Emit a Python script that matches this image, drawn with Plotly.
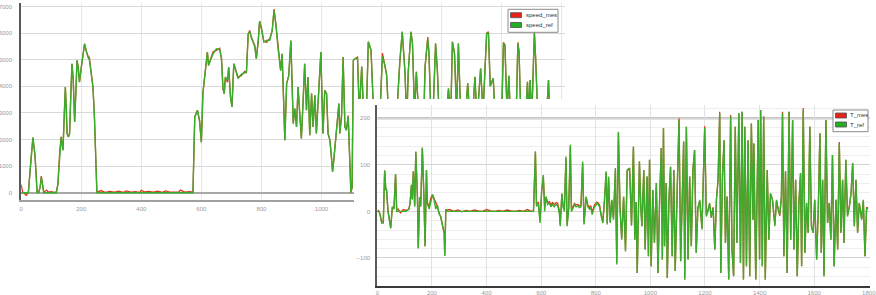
import plotly.graph_objects as go

# ---------------- speed chart data ----------------
speed_t = [
    0, 5, 10, 17, 24, 30, 39, 46, 53, 58,
    63, 67, 72, 75, 85, 90, 100, 110, 117,
    122, 128, 133, 139, 143, 147, 150, 153, 157, 161,
    165, 169, 173, 178, 182, 186, 190, 194, 200, 206,
    211, 216, 222, 227, 231, 235, 239, 244, 248, 252,
    256,
    265, 280, 295, 310, 325, 340, 350, 365, 380, 395,
    400, 410, 425, 440, 455, 470, 480, 495, 510, 525,
    530, 545, 560, 572,
    578, 587, 594, 600, 605, 611, 620, 624, 631, 639,
    650, 661, 667, 672, 676, 680, 687, 691, 697, 702,
    708, 713, 722, 733, 744, 750, 756, 761, 767, 778,
    783, 789, 794, 800, 808, 817, 828, 836, 842, 848,
    855, 864, 869, 874, 878, 884, 891, 898, 902, 906,
    911, 917, 922, 928, 933, 939, 944, 950, 955, 961,
    967, 972, 978, 983, 989, 998, 1002, 1005, 1011, 1017,
    1022, 1028, 1033, 1037, 1041, 1047, 1052, 1058, 1061, 1067,
    1072, 1078, 1083, 1089, 1093, 1098, 1102, 1106, 1111,
    1120, 1126, 1134, 1142, 1150, 1156, 1165, 1175, 1184, 1192,
    1203, 1211, 1217, 1224, 1232, 1240, 1248, 1261, 1269, 1278,
    1284, 1289, 1298, 1303, 1310, 1316, 1325, 1334, 1340, 1345,
    1354, 1358, 1365, 1372, 1380, 1386, 1392, 1400, 1410, 1423,
    1430, 1436, 1443, 1450, 1456, 1462, 1470, 1480, 1487, 1496,
    1504, 1511, 1518, 1530, 1538, 1550, 1556, 1562, 1572, 1580,
    1590, 1600, 1606, 1611, 1618, 1624, 1630, 1640, 1648, 1654,
    1658, 1664, 1672, 1679, 1686, 1690, 1695, 1700, 1709, 1713,
    1720, 1728, 1736, 1744, 1750, 1756, 1762, 1770, 1780, 1790,
]
speed_ref = [
    0, 0, 0, 0, 0, 900, 2075, 1400, 0, 0,
    200, 600, 100, 0, 0, 0, 0, 0, 0,
    300, 1500, 2100, 1600, 3000, 3975, 3200, 2225, 2100, 2200,
    3600, 4850, 4300, 2660, 3800, 4975, 4700, 4160, 4700, 5300,
    5600, 5350, 5100, 5000, 4700, 4300, 3975, 2800, 1200, 0,
    0,
    0, 0, 0, 0, 0, 0, 0, 0, 0, 0,
    0, 0, 0, 0, 0, 0, 0, 0, 0, 0,
    0, 0, 0, 0,
    2850, 3100, 2700, 1900, 3725, 4350, 5290, 4790, 5000, 5225,
    5410, 5380, 5040, 3910, 3725, 4350, 4225, 4725, 3600, 3225,
    4850, 4660, 4290, 4450, 4500, 4540, 5975, 6040, 5850, 5475,
    5040, 5660, 6450, 6225, 5660, 5725, 5740, 6100, 6850, 6350,
    5475, 4600, 5225, 3475, 1975, 4100, 4400, 5725, 3725, 2600,
    3160, 2475, 3975, 3100, 2040, 3475, 4850, 3100, 4350, 2160,
    3725, 2475, 3660, 2225, 3475, 5290, 3475, 2225, 3850, 3725,
    2225, 1975, 1350, 790, 1225, 2100, 2475, 3350, 2225, 2850,
    5100, 2475, 2350, 2850, 1600, 0, 200, 4975, 5040,
    5050, 3000, 4740, 2500, 3200, 5675, 5360, 2600, 3300, 2200,
    5110, 4800, 4420, 2800, 2200, 3000, 2400, 4990, 6050, 4550,
    2700, 4550, 6050, 5610, 3000, 4550, 2600, 3200, 2500, 4740,
    5800, 5240, 2700, 3100, 5610, 4600, 2800, 3300, 2200, 3920,
    2600, 5675, 5240, 3000, 5610, 3500, 2300, 3000, 4110, 2500,
    3000, 4360, 2700, 4670, 3000, 5990, 5990, 4000, 4300, 2500,
    3200, 2800, 5610, 5550, 3000, 4400, 2600, 3300, 2700, 5610,
    5300, 2800, 3300, 2600, 4170, 3000, 4235, 2700, 5990, 5100,
    3000, 2400, 3300, 2600, 3000, 4235, 2500, 2000, 1500, 2200,
]
speed_mes = [
    300, 20, -20, -100, 50, 900, 2075, 1400, 30, 10,
    200, 625, 100, 20, 100, 20, 40, 10, 30,
    300, 1500, 2100, 1600, 3000, 3975, 3200, 2225, 2100, 2200,
    3600, 4850, 4300, 2660, 3800, 4975, 4700, 4160, 4700, 5300,
    5600, 5350, 5150, 5080, 4700, 4300, 3975, 2800, 1200, 60,
    30,
    80, 10, 50, 20, 60, 15, 70, 20, 40, 10,
    90, 30, 50, 20, 60, 15, 70, 25, 40, 30,
    100, 20, 40, 20,
    2850, 3100, 2700, 1900, 3725, 4350, 5290, 4790, 5000, 5300,
    5350, 5430, 5040, 3910, 3725, 4350, 4150, 4725, 3600, 3225,
    4850, 4660, 4350, 4400, 4560, 4500, 5975, 6100, 5800, 5550,
    5040, 5660, 6450, 6150, 5700, 5650, 5800, 6100, 6900, 6350,
    5475, 4600, 5225, 3475, 1975, 4100, 4400, 5725, 3725, 2600,
    3160, 2475, 3975, 3100, 2040, 3475, 4850, 3100, 4350, 2160,
    3725, 2475, 3660, 2225, 3475, 5290, 3475, 2225, 3850, 3725,
    2225, 1975, 1350, 790, 1225, 2100, 2475, 3350, 2225, 2950,
    5100, 2475, 2350, 2900, 1600, 0, 200, 4975, 5040,
    5100, 3000, 4740, 2500, 3200, 5675, 5360, 2600, 3300, 2200,
    5250, 4800, 4420, 2800, 2200, 3000, 2400, 4900, 6050, 4550,
    2700, 4550, 6050, 5610, 3000, 4550, 2600, 3200, 2500, 4740,
    5850, 5240, 2700, 3100, 5610, 4600, 2800, 3300, 2200, 3920,
    2600, 5675, 5240, 3000, 5610, 3500, 2300, 3000, 4110, 2500,
    3000, 4360, 2700, 4670, 3000, 5990, 6050, 4000, 4300, 2500,
    3200, 2800, 5650, 5550, 3000, 4400, 2600, 3300, 2700, 5650,
    5300, 2800, 3300, 2600, 4170, 3000, 4235, 2700, 6050, 5100,
    3000, 2400, 3300, 2600, 3000, 4235, 2500, 2000, 1500, 2200,
]

# ---------------- torque chart data ----------------
T_t = [
    0, 5, 10, 16, 22, 27, 31, 34, 39, 45,
    49, 55, 61, 67, 71, 76, 85, 95, 105, 116,
    120, 125, 128, 132, 137, 141, 147, 150, 155, 159,
    165, 171, 175, 180, 183, 190, 196, 202, 208, 214,
    220, 226, 232, 238, 245, 247, 251, 257,
    265, 280, 295, 310, 325, 340, 355, 370, 385, 400,
    415, 430, 445, 460, 475, 490, 505, 520, 535, 550,
    560, 572,
    579, 583, 590, 596, 602, 608, 613, 618, 624, 630,
    636, 642, 648, 655, 661, 667, 670, 676, 680, 685,
    691, 695, 701, 707, 711, 716, 722, 728, 734, 740,
    746, 752, 757, 765, 771, 777, 782, 787, 795, 800,
    804, 809, 814, 820, 826, 832, 838, 842, 847, 853,
    859, 865, 872, 877, 883, 889, 895, 902, 909, 915,
    924, 931, 938, 943, 948, 952, 956, 960, 965, 969,
    976, 981, 988, 993, 997, 1003, 1009, 1015, 1022, 1028,
    1034, 1040, 1044, 1048, 1052, 1058, 1062, 1068, 1074, 1080,
    1086, 1091, 1099, 1105, 1111, 1116, 1122, 1126, 1132, 1138,
    1144, 1150, 1156, 1162, 1168, 1174, 1181, 1189, 1195, 1199,
    1205, 1211, 1217, 1223, 1230, 1236, 1242, 1248, 1254, 1258,
    1264, 1270, 1275, 1281, 1287, 1294, 1299, 1305, 1311, 1317,
    1324, 1330, 1336, 1341, 1346, 1352, 1358, 1364, 1370, 1376,
    1379, 1386, 1395, 1400, 1404, 1410, 1415, 1421, 1428, 1434,
    1440, 1447, 1456, 1462, 1468, 1474, 1480, 1484, 1489, 1495,
    1501, 1508, 1514, 1521, 1526, 1532, 1538, 1544, 1550, 1554,
    1560, 1566, 1572, 1578, 1584, 1590, 1596, 1602, 1609, 1615,
    1621, 1626, 1631, 1636, 1643, 1649, 1655, 1661, 1667, 1673,
    1680, 1686, 1692, 1698, 1704, 1709, 1716, 1722, 1729, 1735,
    1741, 1747, 1753, 1759, 1765, 1774, 1780, 1786, 1792, 1797,
]
T_ref = [
    0, 0, -5, -25, -25, 88, 50, 46, 0, -25,
    -36, 10, 5, 80, 0, 0, 0, 0, 0, 5,
    18, 57, 25, 86, 10, 128, 32, -79, 30, 10,
    136, 25, -75, 89, 18, 5, 25, 36, 25, 5,
    14, -5, -11, -29, -46, -95, 4, 0,
    0, 0, 0, 0, 0, 0, 0, 0, 0, 0,
    0, 0, 0, 0, 0, 0, 0, 0, 0, 0,
    0, 0,
    129, 11, 15, -25, 46, 78, 0, 32, 15, 18,
    10, 15, 10, 15, 12, -5, -32, 39, 10, 0,
    118, -32, 5, 143, 0, 5, 14, 10, 12, 8,
    10, 107, -28, 32, 10, 5, 8, -7, 10, 12,
    18, 15, 10, -10, -25, 25, 86, -28, 75, -25,
    25, -18, 93, -114, 171, 5, -61, 32, -86, 89,
    93, -30, 139, -61, 20, -132, 30, 107, 10, -32,
    89, -82, 75, -96, 111, -118, 46, -67, 61, -132,
    25, 136, -103, 179, -75, 61, -143, 25, 96, -96,
    89, -128, 61, 196, -107, 32, 150, -146, 182, -103,
    75, -75, 89, 132, -89, 4, 25, -39, 121, 179,
    -11, 0, 18, -14, 7, -82, 25, 68, 211, -132,
    75, 153, -68, 32, -146, 204, -82, -139, 182, -68,
    211, -111, 214, -146, 182, -118, 153, -139, 189, -18,
    146, -146, 196, -103, 218, -118, 204, -146, 89, -61,
    39, 25, -32, 25, 4, -7, 32, 211, -96, 86,
    -132, 214, -61, 196, -82, 68, -139, 18, 82, -118,
    218, -89, 18, -46, 182, -32, -46, 25, -103, 4,
    168, -89, 68, -139, 196, -25, 18, -61, 121, -118,
    25, -82, 146, -46, 68, -68, 111, -11, 11, 39,
    104, -32, 68, -46, 18, -18, 25, -96, 7, 5,
]
T_mes = [
    0, 2, -8, -22, -20, 88, 47, 46, 4, -25,
    -36, 8, 7, 80, 4, 5, -3, 4, 2, 5,
    18, 57, 27, 86, 13, 128, 32, -79, 30, 12,
    137, 25, -75, 89, 20, 9, 29, 36, 27, 16,
    11, -3, -11, -29, -46, -95, 3, 3,
    4, 0, 3, -1, 2, 0, 3, 1, 0, 4,
    1, 0, 2, 0, 3, 1, 0, 2, 0, 4,
    1, 0,
    127, 17, 19, -19, 43, 74, 10, 30, 19, 21,
    14, 19, 15, 19, 17, 0, -28, 37, 14, 6,
    114, -28, 9, 139, 6, 10, 17, 14, 15, 12,
    14, 103, -24, 30, 14, 9, 12, -2, 14, 17,
    20, 18, 14, -7, -22, 23, 83, -25, 72, -22,
    23, -15, 90, -111, 168, 7, -58, 31, -83, 86,
    93, -30, 139, -61, 20, -132, 30, 107, 10, -32,
    89, -82, 75, -96, 111, -118, 46, -67, 61, -132,
    25, 136, -103, 179, -75, 61, -143, 25, 96, -96,
    89, -128, 61, 200, -107, 32, 150, -146, 182, -103,
    75, -75, 89, 132, -89, 8, 22, -36, 121, 183,
    -8, 3, 16, -10, 9, -82, 25, 68, 214, -132,
    75, 153, -68, 32, -146, 207, -82, -139, 182, -68,
    211, -111, 214, -146, 182, -118, 153, -139, 189, -18,
    146, -146, 196, -103, 218, -118, 204, -146, 89, -61,
    37, 27, -28, 23, 7, -10, 32, 214, -96, 86,
    -132, 214, -61, 196, -82, 68, -139, 18, 82, -118,
    222, -89, 18, -46, 182, -32, -46, 25, -103, 4,
    168, -89, 68, -139, 196, -25, 18, -61, 121, -118,
    25, -82, 149, -46, 68, -68, 111, -8, 12, 39,
    104, -32, 68, -46, 18, -16, 23, -96, 9, 7,
]

speed_ticks = [0, 1000, 2000, 3000, 4000, 5000, 6000, 7000]
T_ticks = [-100, 0, 100, 200]
time_ticks = [0, 200, 400, 600, 800, 1000, 1200, 1400, 1600, 1800]
speed_names = ["speed_mes", "speed_ref"]
T_names = ["T_mes", "T_ref"]

RED = "#dc3a1c"
GREEN = "#3cac2c"
KEY_RED = "#e8201c"
KEY_GREEN = "#22b022"
FONT = "Liberation Sans, Arial, sans-serif"
W, H = 876, 295

fig = go.Figure()

# speed chart (x / y)
fig.add_trace(go.Scatter(x=speed_t, y=speed_mes, mode="lines", name=speed_names[0],
                         line=dict(color=RED, width=1.3), showlegend=False,
                         xaxis="x", yaxis="y", hoverinfo="skip"))
fig.add_trace(go.Scatter(x=speed_t, y=speed_ref, mode="lines", name=speed_names[1],
                         line=dict(color=GREEN, width=1.4), showlegend=False,
                         xaxis="x", yaxis="y", hoverinfo="skip"))

# cover subplot (x2 / y2): the white window on which the torque chart sits
fig.add_trace(go.Scatter(x=[], y=[], mode="lines", showlegend=False, xaxis="x2", yaxis="y2"))

# torque chart (x3 / y3)
fig.add_trace(go.Scatter(x=T_t, y=T_mes, mode="lines", name=T_names[0],
                         line=dict(color=RED, width=1.3), showlegend=False,
                         xaxis="x3", yaxis="y3", hoverinfo="skip"))
fig.add_trace(go.Scatter(x=T_t, y=T_ref, mode="lines", name=T_names[1],
                         line=dict(color=GREEN, width=1.4), showlegend=False,
                         xaxis="x3", yaxis="y3", hoverinfo="skip"))

tickfont = dict(family=FONT, size=6, color="#9a9a9a")
T_xmax = 1802.6
T_ymin, T_ymax = -160.6, 228.5


def px(xp):
    return xp / W


def py(yp):
    return 1 - yp / H


shapes = [
    # white window of the torque chart, drawn in the cover subplot's layer
    dict(type="rect", xref="x2", yref="y2", x0=0, x1=1, y0=0, y1=1,
         fillcolor="white", line=dict(width=0), layer="below"),
    # heavy top grid line of the torque window
    dict(type="line", xref="x3", yref="y3", x0=0, x1=T_xmax, y0=T_ticks[-1], y1=T_ticks[-1],
         line=dict(color="#c6c6c6", width=2.5), layer="below"),
]
annotations = []


def add_key(x0, x1, y0, y1, names, sym_x, text_x, rows):
    shapes.append(dict(type="rect", xref="paper", yref="paper",
                       x0=px(x0), x1=px(x1), y0=py(y1), y1=py(y0),
                       fillcolor="white", line=dict(color="#8a8a8a", width=1), layer="above"))
    for name, col, yc in zip(names, [KEY_RED, KEY_GREEN], rows):
        shapes.append(dict(type="rect", xref="paper", yref="paper",
                           x0=px(sym_x), x1=px(sym_x + 11), y0=py(yc + 2.5), y1=py(yc - 2.5),
                           fillcolor=col, line=dict(color="#505050", width=0.8), layer="above"))
        annotations.append(dict(xref="paper", yref="paper", x=px(text_x), y=py(yc),
                                xanchor="left", yanchor="middle", showarrow=False,
                                text=name, font=dict(family=FONT, size=6, color="#333")))


add_key(508, 558, 9.3, 32.3, speed_names, 510.5, 524, [15.2, 25.0])
add_key(833, 868, 110, 131.7, T_names, 835.5, 847.5, [115.5, 124.5])

fig.update_layout(
    width=W, height=H,
    margin=dict(l=0, r=0, t=0, b=0, autoexpand=False),
    paper_bgcolor="white", plot_bgcolor="white",
    font=dict(family=FONT),
    showlegend=False,
    xaxis=dict(domain=[px(21.2), px(565)], range=[0, 1811], anchor="y", automargin=False,
               tickvals=time_ticks, tickfont=tickfont, ticks="", ticklabelstandoff=2,
               showgrid=True, gridcolor="#e6e6e6", gridwidth=1, zeroline=False,
               showline=True, linecolor="#a0a0a0", linewidth=2),
    yaxis=dict(domain=[py(200), py(3)], range=[-274, 7133], anchor="x", automargin=False,
               tickvals=speed_ticks, tickfont=tickfont, ticks="", ticklabelstandoff=6,
               showgrid=True, gridcolor="#d9d9d9", gridwidth=1,
               zeroline=True, zerolinecolor="#a8a8a8", zerolinewidth=2,
               showline=True, linecolor="#5a5a5a", linewidth=2),
    xaxis2=dict(domain=[px(354), 1.0], range=[0, 1], anchor="y2", visible=False,
                showgrid=False, zeroline=False, automargin=False),
    yaxis2=dict(domain=[0.0, py(99)], range=[0, 1], anchor="x2", visible=False,
                showgrid=False, zeroline=False, automargin=False),
    xaxis3=dict(domain=[px(377.3), px(869.5)], range=[0, T_xmax], anchor="y3", automargin=False,
                tickvals=time_ticks, tickfont=tickfont, ticks="", ticklabelstandoff=0,
                ticklabeloverflow="allow",
                showgrid=True, gridcolor="#e2e2e2", gridwidth=1, zeroline=False,
                showline=True, linecolor="#3a3a3a", linewidth=2),
    yaxis3=dict(domain=[py(286.2), py(105)], range=[T_ymin, T_ymax], anchor="x3", automargin=False,
                tickvals=T_ticks, tickfont=tickfont, ticks="", ticklabelstandoff=4,
                showgrid=True, gridcolor="#d4d4d4", gridwidth=1,
                minor=dict(dtick=20, showgrid=True, gridcolor="#eeeeee", gridwidth=1),
                zeroline=False,
                showline=True, linecolor="#5a5a5a", linewidth=2),
    shapes=shapes,
    annotations=annotations,
)

fig.write_html("out.html", config={"displayModeBar": False},
               post_script="document.body.style.margin='0';")
